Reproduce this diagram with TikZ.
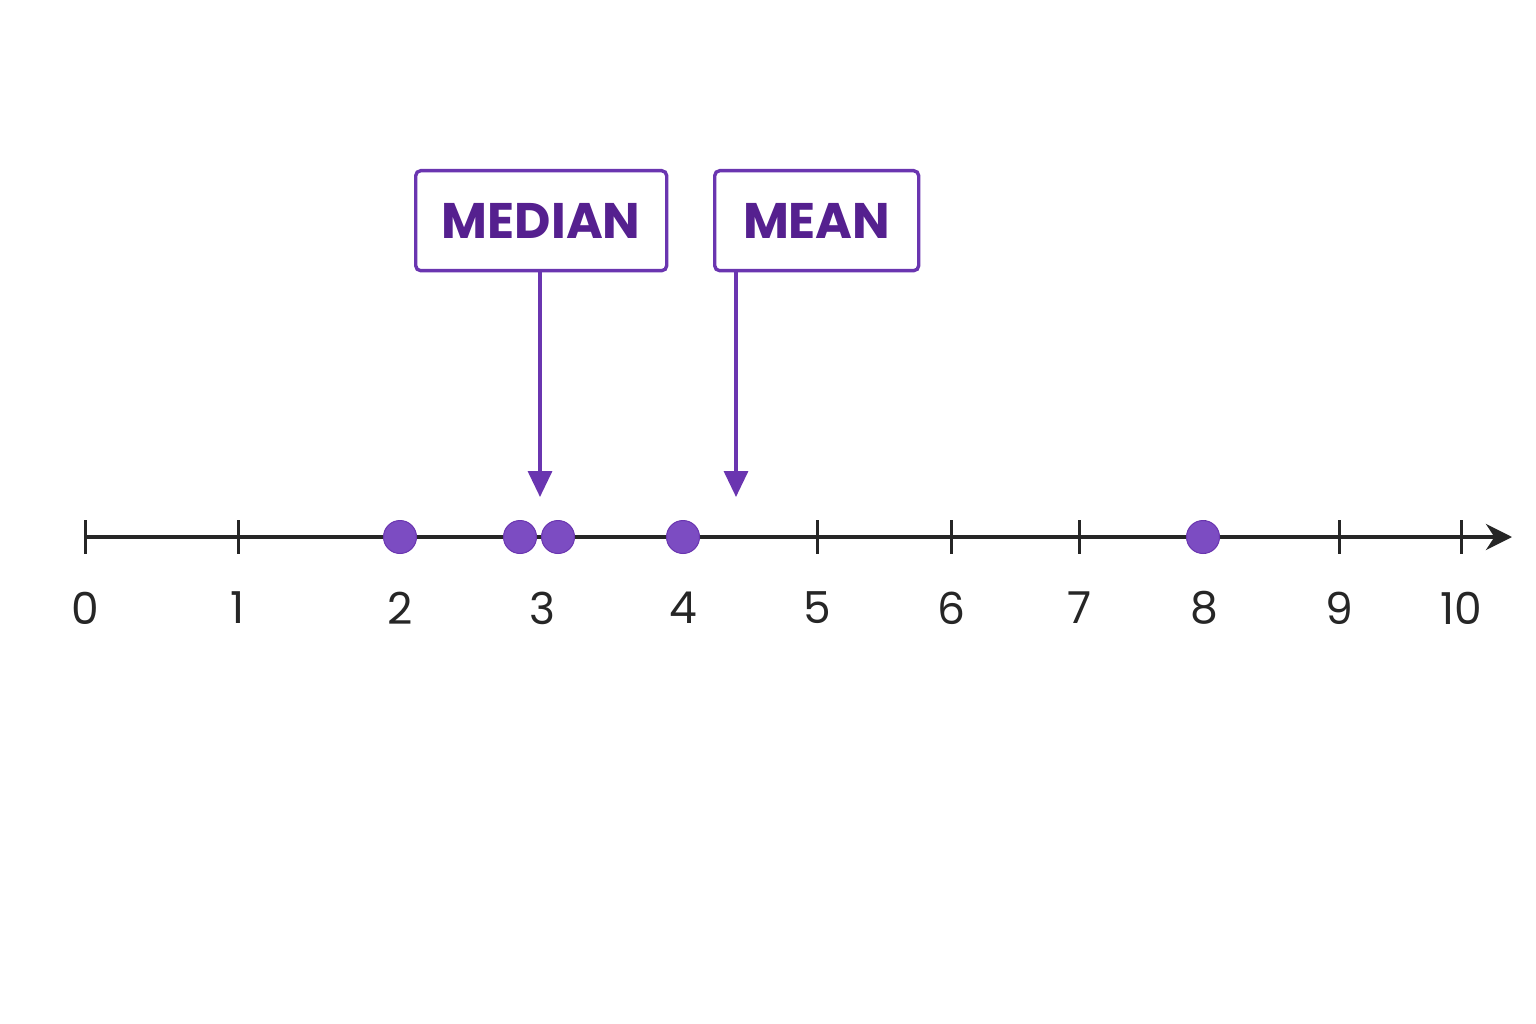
\documentclass[tikz,border=0pt]{standalone}
\usepackage{fontspec}
\setmainfont{Poppins}
\usepackage{tikz}
\usetikzlibrary{arrows.meta, positioning}
\definecolor{violet1}{HTML}{6A35B0}
\definecolor{violet2}{HTML}{55208F}
\definecolor{dotfill}{HTML}{7C4CC2}
\tikzset{tick/.style={draw=black!85, line width=3pt},
    datum/.style={circle, fill=dotfill, draw=violet1, line width=1pt, minimum size=33pt, inner sep=0pt},
    tag/.style={draw=violet1, line width=3.4pt, rounded corners=5pt, fill=white,
      text=violet2, font=\fontsize{50}{54}\selectfont\bfseries, minimum height=100pt, anchor=north west},
    pointer/.style={draw=violet1, line width=3.4pt, -{Triangle[width=24pt,length=26pt]}},
    numlabel/.style={font=\fontsize{44}{48}\selectfont\medseries, text=black!85}}
\providecommand\medseries{}
\begin{document}
\begin{tikzpicture}[x=1pt,y=-1pt]
    \useasboundingbox[fill=white] (0,0) rectangle (1536,1024);
    \coordinate (start) at (85,537);
    \coordinate (end) at (1512,537);
    \draw[line width=4pt, black!85, -{Stealth[width=26pt,length=26pt]}] (start) -- (end);
    % ticks and numbers
    \foreach \n/\x in {0/85,1/238,2/400,4/683,5/817,6/951,7/1079,8/1204,9/1339,10/1461} {
      \draw[tick] (\x,520) -- (\x,554);
    }
    \foreach \n/\x in {0/85,1/238,2/400,3/542,4/683,5/817,6/951,7/1079,8/1204,9/1339,10/1461} {
      \node[numlabel] (n\n) at (\x,608) {\n};
    }
    % data points
    \foreach \i/\x in {a/400,b/520,c/558,d/683,e/1203}
      \node[datum] (p\i) at (\x,537) {};
    % labels
    \node[tag, minimum width=251pt] (median) at (414,169) {MEDIAN};
    \node[tag, minimum width=204pt] (mean) at (713,169) {MEAN};
    \coordinate (medtip) at (540,497);
    \coordinate (meantip) at (736,497);
    \draw[pointer] (median.south -| medtip) -- (medtip);
    \draw[pointer] (mean.south -| meantip) -- (meantip);
\end{tikzpicture}
\end{document}
